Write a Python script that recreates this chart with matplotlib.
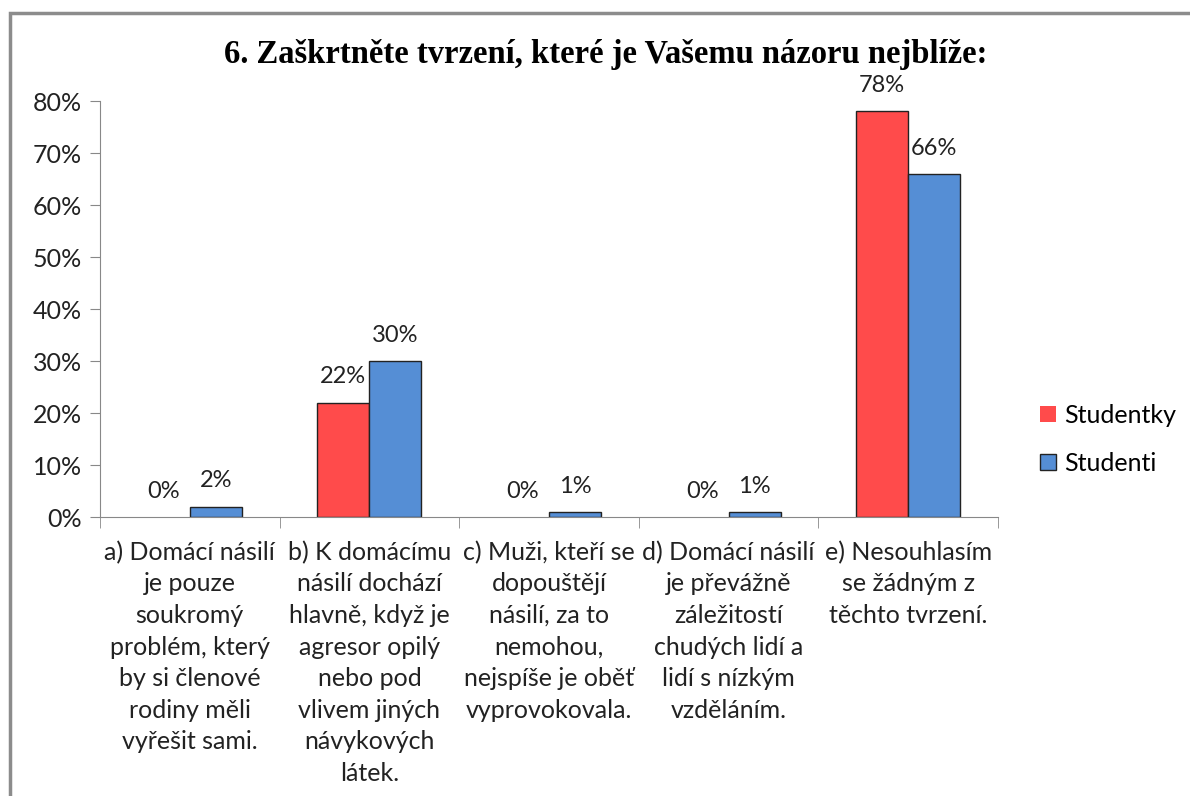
import numpy as np
import matplotlib.pyplot as plt
from matplotlib.patches import Rectangle

plt.rcParams['font.family'] = ['Lato', 'DejaVu Sans']

kategorie = ['a) Domácí násilí\nje pouze\nsoukromý\nproblém, který\nby si členové\nrodiny měli\nvyřešit sami.',
             'b) K domácímu\nnásilí dochází\nhlavně, když je\nagresor opilý\nnebo pod\nvlivem jiných\nnávykových\nlátek.',
             'c) Muži, kteří se\ndopouštějí\nnásilí, za to\nnemohou,\nnejspíše je oběť\nvyprovokovala.',
             'd) Domácí násilí\nje převážně\nzáležitostí\nchudých lidí a\nlidí s nízkým\nvzděláním.',
             'e) Nesouhlasím\nse žádným z\ntěchto tvrzení.']
studentky = [0, 22, 0, 0, 78]
studenti = [2, 30, 1, 1, 66]

fig = plt.figure(figsize=(11.9, 7.96), dpi=100)
ax = fig.add_axes([0.084, 0.3505, 0.7547, 0.5226])

# ramecek kolem grafu (jen vlevo a nahore, zbytek je mimo obrazek)
fig.patches.append(Rectangle((10/1190, -0.1), 1.2, 1.1 - 13/796, transform=fig.transFigure,
                             fill=False, edgecolor='#8c8c8c', linewidth=2.5))

x = np.arange(len(kategorie))
w = 0.29
b1 = ax.bar(x - w/2, studentky, w, color='#FF4B4B', edgecolor='#222222', linewidth=1, label='Studentky')
b2 = ax.bar(x + w/2, studenti, w, color='#558ED5', edgecolor='#222222', linewidth=1, label='Studenti')

for bars, vals in [(b1, studentky), (b2, studenti)]:
    for r, v in zip(bars, vals):
        if v == 0:
            r.set_linewidth(0)
        ax.annotate('%d%%' % v, (r.get_x() + r.get_width()/2, v), xytext=(0, 11),
                    textcoords='offset points', ha='center', va='bottom', fontsize=17, color='#222222')

ax.set_xlim(-0.5, len(kategorie) - 0.5)
ax.set_ylim(0, 80)
ax.set_yticks(range(0, 81, 10))
ax.set_yticklabels(['%d%%' % v for v in range(0, 81, 10)], fontsize=18, color='#222222')
ax.set_xticks(x)
ax.set_xticklabels(kategorie, fontsize=18, color='#222222', linespacing=1.45, va='top')
ax.tick_params(axis='x', length=0, pad=17)
ax.set_xticks(np.arange(-0.5, len(kategorie)), minor=True)
ax.tick_params(axis='x', which='minor', length=8, color='#888888')
ax.tick_params(axis='y', length=7, color='#888888', pad=6)
for s in ['top', 'right']:
    ax.spines[s].set_visible(False)
for s in ['left', 'bottom']:
    ax.spines[s].set_color('#888888')

fig.text(0.509, 0.932, '6. Zaškrtněte tvrzení, které je Vašemu názoru nejblíže:',
         ha='center', va='center', fontsize=23.5, fontweight='bold', family='Liberation Serif')

leg = fig.legend(handles=[b1, b2], loc='center left', bbox_to_anchor=(0.855, 0.448), frameon=False,
                 fontsize=18, handlelength=0.65, handleheight=0.65, labelspacing=1.0, handletextpad=0.3)

fig.savefig('out.png', dpi=100)
